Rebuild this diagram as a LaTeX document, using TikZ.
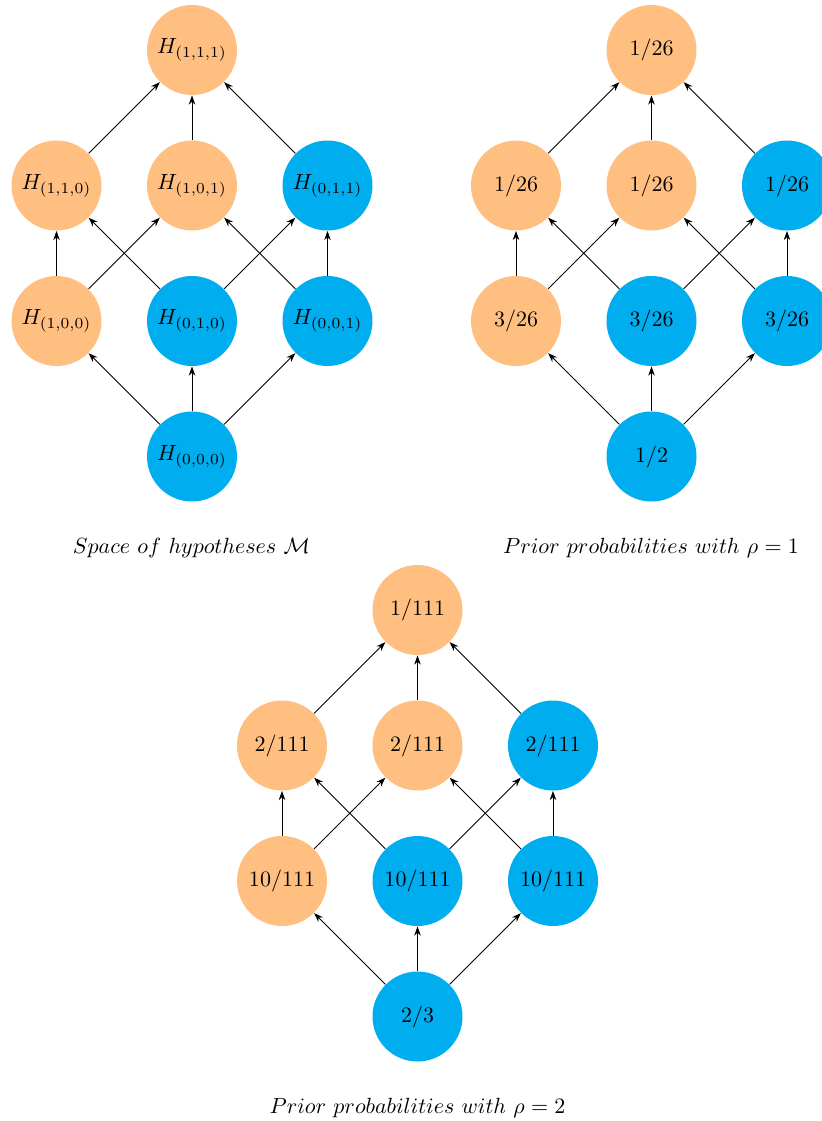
\documentclass[tikz,border=0pt]{standalone}
\usetikzlibrary{arrows.meta}
\begin{document}
\begin{tikzpicture}[x=0.4545pt,y=-0.4545pt,
  hyp/.style={circle,minimum size=40.9pt,inner sep=0pt},
  ora/.style={hyp,fill=orange!50},
  blu/.style={hyp,fill=cyan},
  arr/.style={-{Stealth[length=4.2pt,width=3pt]},line width=0.4pt},
  captext/.style={inner sep=0pt}]
\useasboundingbox (0,0) rectangle (822,1121);
% ---------- diagram 1 ----------
\begin{scope}
\node[ora] (a111) at (192,50) {$H_{(1,1,1)}$};
\node[ora] (a110) at (56.5,185.5) {$H_{(1,1,0)}$};
\node[ora] (a101) at (192,185.5) {$H_{(1,0,1)}$};
\node[blu] (a011) at (327.5,185.5) {$H_{(0,1,1)}$};
\node[ora] (a100) at (56.5,321) {$H_{(1,0,0)}$};
\node[blu] (a010) at (192,321) {$H_{(0,1,0)}$};
\node[blu] (a001) at (327.5,321) {$H_{(0,0,1)}$};
\node[blu] (a000) at (192,456.5) {$H_{(0,0,0)}$};
\foreach \s/\t in {a000/a100,a000/a010,a000/a001,a100/a110,a100/a101,a010/a110,a010/a011,a001/a101,a001/a011,a110/a111,a101/a111,a011/a111}
  \draw[arr] (\s) -- (\t);
\node[captext] (c1) at (191.5,548) {$Space\ of\ hypotheses\ \mathcal{M}$};
\end{scope}
% ---------- diagram 2 ----------
\begin{scope}
\node[ora] (b111) at (651.5,50) {$1/26$};
\node[ora] (b110) at (516,185.5) {$1/26$};
\node[ora] (b101) at (651.5,185.5) {$1/26$};
\node[blu] (b011) at (787,185.5) {$1/26$};
\node[ora] (b100) at (516,321) {$3/26$};
\node[blu] (b010) at (651.5,321) {$3/26$};
\node[blu] (b001) at (787,321) {$3/26$};
\node[blu] (b000) at (651.5,456.5) {$1/2$};
\foreach \s/\t in {b000/b100,b000/b010,b000/b001,b100/b110,b100/b101,b010/b110,b010/b011,b001/b101,b001/b011,b110/b111,b101/b111,b011/b111}
  \draw[arr] (\s) -- (\t);
\node[captext] (c2) at (651,548) {$Prior\ probabilities\ with\ \rho=1$};
\end{scope}
% ---------- diagram 3 ----------
\begin{scope}
\node[ora] (d111) at (417.5,610) {$1/111$};
\node[ora] (d110) at (282,745.5) {$2/111$};
\node[ora] (d101) at (417.5,745.5) {$2/111$};
\node[blu] (d011) at (553,745.5) {$2/111$};
\node[ora] (d100) at (282,881) {$10/111$};
\node[blu] (d010) at (417.5,881) {$10/111$};
\node[blu] (d001) at (553,881) {$10/111$};
\node[blu] (d000) at (417.5,1016.5) {$2/3$};
\foreach \s/\t in {d000/d100,d000/d010,d000/d001,d100/d110,d100/d101,d010/d110,d010/d011,d001/d101,d001/d011,d110/d111,d101/d111,d011/d111}
  \draw[arr] (\s) -- (\t);
\node[captext] (c3) at (417.5,1108) {$Prior\ probabilities\ with\ \rho=2$};
\end{scope}
\end{tikzpicture}
\end{document}
